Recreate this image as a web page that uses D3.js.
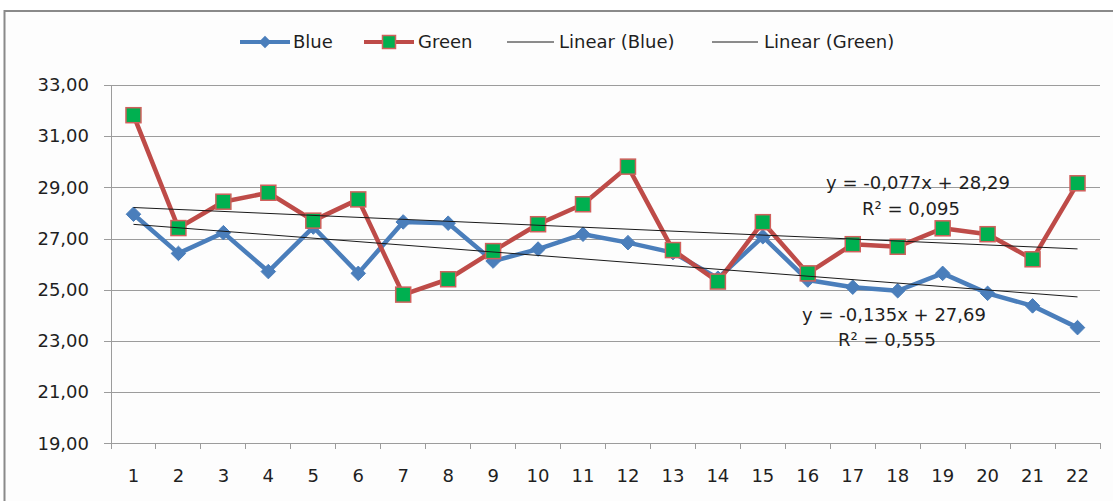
<!DOCTYPE html>
<html>
<head>
<meta charset="utf-8">
<script src="https://cdn.jsdelivr.net/npm/d3@7/dist/d3.min.js"></script>
<style>
  html, body { margin: 0; padding: 0; background: #ffffff; }
  svg { display: block; }
  text { font-family: "DejaVu Sans", sans-serif; fill: #1f1f1f; }
</style>
</head>
<body>
<svg id="chart" width="1113" height="501"></svg>
<script>
const categories = ["1","2","3","4","5","6","7","8","9","10","11","12","13","14","15","16","17","18","19","20","21","22"];
const blueValues = [27.95,26.42,27.23,25.71,27.45,25.64,27.65,27.60,26.12,26.59,27.17,26.84,26.45,25.45,27.07,25.38,25.10,24.96,25.64,24.86,24.37,23.52];
const greenValues = [31.82,27.41,28.44,28.79,27.70,28.53,24.81,25.41,26.51,27.56,28.34,29.81,26.55,25.32,27.64,25.64,26.78,26.68,27.40,27.17,26.19,29.16];
const yTicks = [19,21,23,25,27,29,31,33];
const blueTrend = { slope: -0.135, intercept: 27.69, label: "y = -0,135x + 27,69", r2: "R² = 0,555" };
const greenTrend = { slope: -0.077, intercept: 28.29, label: "y = -0,077x + 28,29", r2: "R² = 0,095" };
const legendItems = ["Blue", "Green", "Linear (Blue)", "Linear (Green)"];

const BLUE = "#4a7ebb", RED = "#be4b48", GREENFILL = "#00b050", GRID = "#9c9c9c";

const svg = d3.select("#chart");

// outer frame
svg.append("rect").attr("x", 0).attr("y", 0).attr("width", 1113).attr("height", 501).attr("fill", "#ffffff");
svg.append("rect").attr("x", 4.5).attr("y", 11).attr("width", 1130).attr("height", 520)
  .attr("fill", "#fdfdfd").attr("stroke", "#8a8a8a").attr("stroke-width", 2);

const plot = { left: 111, right: 1100, top: 85, bottom: 443.3 };

const x = d3.scaleBand().domain(categories).range([plot.left, plot.right]).paddingInner(0).paddingOuter(0);
const y = d3.scaleLinear().domain([19, 33]).range([plot.bottom, plot.top]);
const cx = c => x(c) + x.bandwidth() / 2;

// gridlines + y axis
const yAxis = d3.axisLeft(y).tickValues(yTicks).tickSize(plot.right - plot.left + 7)
  .tickFormat(d => d3.format(".2f")(d).replace(".", ","));
const gy = svg.append("g").attr("transform", `translate(${plot.right},0)`).call(yAxis);
gy.select(".domain").remove();
gy.selectAll(".tick line").attr("stroke", GRID).attr("stroke-width", 1).attr("shape-rendering", "crispEdges");
gy.selectAll(".tick text").attr("x", -(plot.right - 89)).attr("dx", 0).attr("font-size", 18)
  .attr("text-anchor", "end").style("font-family", "DejaVu Sans").attr("fill", "#1f1f1f");

// y axis line
svg.append("line").attr("x1", plot.left).attr("x2", plot.left).attr("y1", plot.top).attr("y2", plot.bottom)
  .attr("stroke", GRID).attr("shape-rendering", "crispEdges");

// x axis
const xAxisLine = svg.append("g");
xAxisLine.append("line").attr("x1", plot.left).attr("x2", plot.right).attr("y1", plot.bottom).attr("y2", plot.bottom)
  .attr("stroke", GRID).attr("shape-rendering", "crispEdges");
const bounds = categories.map(c => x(c)).concat([plot.right]);
xAxisLine.selectAll("line.tk").data(bounds).join("line").attr("class", "tk")
  .attr("x1", d => d).attr("x2", d => d).attr("y1", plot.bottom).attr("y2", plot.bottom + 6)
  .attr("stroke", GRID).attr("shape-rendering", "crispEdges");
xAxisLine.selectAll("text").data(categories).join("text")
  .attr("x", d => cx(d)).attr("y", 476).attr("dy", "0.35em").attr("text-anchor", "middle")
  .attr("font-size", 18).text(d => d);

// series lines
const line = d3.line().x((d, i) => cx(categories[i])).y(d => y(d));
svg.append("path").datum(blueValues).attr("d", line).attr("fill", "none")
  .attr("stroke", BLUE).attr("stroke-width", 4.5).attr("stroke-linejoin", "round");
const diamond = d3.symbol().type(d3.symbolDiamond2).size(135);
svg.append("g").selectAll("path").data(blueValues).join("path")
  .attr("d", diamond).attr("transform", (d, i) => `translate(${cx(categories[i])},${y(d)})`)
  .attr("fill", BLUE).attr("stroke", BLUE).attr("stroke-width", 1);

svg.append("path").datum(greenValues).attr("d", line).attr("fill", "none")
  .attr("stroke", RED).attr("stroke-width", 4.5).attr("stroke-linejoin", "round");
const sq = 15;
svg.append("g").selectAll("rect").data(greenValues).join("rect")
  .attr("x", (d, i) => cx(categories[i]) - sq / 2).attr("y", d => y(d) - sq / 2)
  .attr("width", sq).attr("height", sq)
  .attr("fill", GREENFILL).attr("stroke", "#d0605c").attr("stroke-width", 1.5);

// trend lines
function trend(t) {
  const x1 = 1, x2 = categories.length;
  svg.append("line")
    .attr("x1", cx(categories[0])).attr("y1", y(t.intercept + t.slope * x1))
    .attr("x2", cx(categories[categories.length - 1])).attr("y2", y(t.intercept + t.slope * x2))
    .attr("stroke", "#1a1a1a").attr("stroke-width", 1);
}
trend(blueTrend);
trend(greenTrend);

// equation labels
function eq(t, xc, y1, y2) {
  svg.append("text").attr("x", xc).attr("y", y1).attr("dy", "0.35em").attr("text-anchor", "middle")
    .attr("font-size", 18).text(t.label);
  svg.append("text").attr("x", xc - 7).attr("y", y2).attr("dy", "0.35em").attr("text-anchor", "middle")
    .attr("font-size", 18).text(t.r2);
}
eq(greenTrend, 918, 183, 209);
eq(blueTrend, 894, 315, 340);

// legend
const ly = 42;
const lg = svg.append("g");
// Blue
lg.append("line").attr("x1", 240).attr("x2", 290).attr("y1", ly).attr("y2", ly).attr("stroke", BLUE).attr("stroke-width", 4);
lg.append("path").attr("d", d3.symbol().type(d3.symbolDiamond2).size(100)).attr("transform", `translate(265,${ly})`).attr("fill", BLUE);
lg.append("text").attr("x", 293).attr("y", ly).attr("dy", "0.35em").attr("font-size", 18).text(legendItems[0]);
// Green
lg.append("line").attr("x1", 364).attr("x2", 414).attr("y1", ly).attr("y2", ly).attr("stroke", RED).attr("stroke-width", 4);
lg.append("rect").attr("x", 389 - 6.5).attr("y", ly - 6.5).attr("width", 13).attr("height", 13)
  .attr("fill", GREENFILL).attr("stroke", "#d0605c").attr("stroke-width", 1.5);
lg.append("text").attr("x", 418).attr("y", ly).attr("dy", "0.35em").attr("font-size", 18).text(legendItems[1]);
// Linear (Blue)
lg.append("line").attr("x1", 507).attr("x2", 554).attr("y1", ly).attr("y2", ly).attr("stroke", "#1a1a1a").attr("stroke-width", 1);
lg.append("text").attr("x", 559).attr("y", ly).attr("dy", "0.35em").attr("font-size", 18).text(legendItems[2]);
// Linear (Green)
lg.append("line").attr("x1", 712).attr("x2", 758).attr("y1", ly).attr("y2", ly).attr("stroke", "#1a1a1a").attr("stroke-width", 1);
lg.append("text").attr("x", 764).attr("y", ly).attr("dy", "0.35em").attr("font-size", 18).text(legendItems[3]);
</script>
</body>
</html>
